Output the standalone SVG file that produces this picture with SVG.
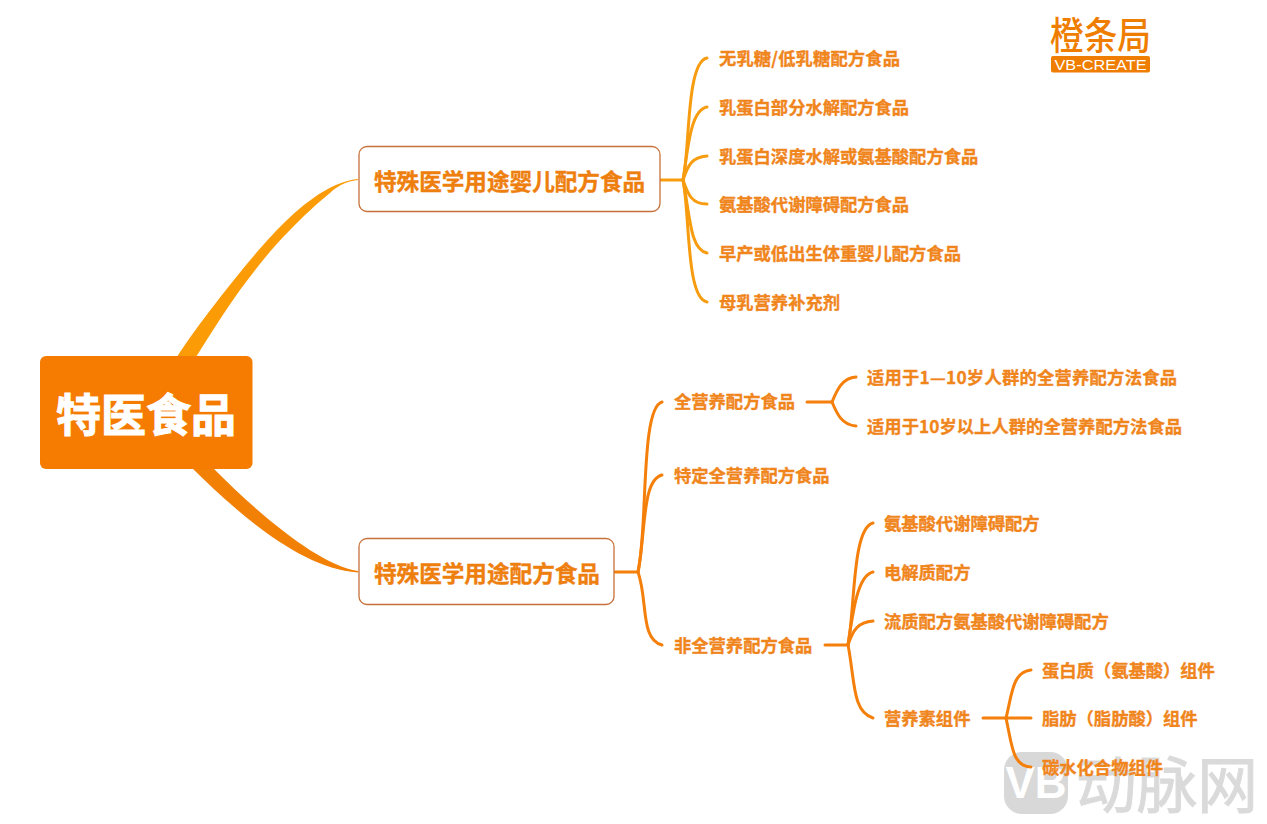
<svg xmlns="http://www.w3.org/2000/svg" width="1267" height="824" viewBox="0 0 1267 824">
<style>
text{font-family:"Noto Sans CJK SC","Noto Sans",sans-serif;font-weight:700;fill:#f0851c}
.t{font-size:17.3px;stroke:#f0851c;stroke-width:.35}
.m{font-size:22.6px;fill:#ee7f0e;stroke:#ee7f0e;stroke-width:.4}
.box{fill:#fff;stroke:#c8703a;stroke-width:1.3}
.y{fill:none;stroke:#f79c0f;stroke-width:3;stroke-linecap:round}
.o{fill:none;stroke:#f47f0a;stroke-width:3;stroke-linecap:round}
</style>
<rect width="1267" height="824" fill="#fff"/>
<g id="watermark" opacity=".8">
<rect x="1004" y="752" width="64" height="62" rx="18" fill="#cfcfcf"/>
<text x="1036" y="798" font-size="44" text-anchor="middle" style="font-family:'Liberation Sans',sans-serif;fill:#fff">VB</text>
<text x="1076" y="808" font-size="61" textLength="182" lengthAdjust="spacingAndGlyphs" style="font-weight:400;fill:#d2d2d2;stroke:#d2d2d2;stroke-width:1">动脉网</text>
</g>
<g id="connectors">
<path d="M177 357C195 328 255 250 287 220C310 198 335 181 358 179L358 180C345 181 335 188 330 193C315 205 305 215 290 230C270 250 255 270 240 290C222 315 210 335 196 357Z" fill="#fb9c07"/>
<path d="M192 468C240 515 300 568 358 572.500L358 571C320 565 265 520 213 468Z" fill="#f18005"/>
<g class="y">
<path d="M661 180H683"/>
<path d="M683 180C690 150 686 62 707 58"/>
<path d="M683 180C688 150 690 110 707 107"/>
<path d="M683 180C688 165 692 157 707 156"/>
<path d="M683 180C688 195 692 204 707 204"/>
<path d="M683 180C690 215 690 250 707 253"/>
<path d="M683 180C690 215 686 298 707 302"/>
</g>
<g class="o">
<path d="M615 572H638"/>
<path d="M638 572C648 530 640 408 662 402"/>
<path d="M638 572C646 530 642 480 662 475"/>
<path d="M638 572C648 600 640 640 662 645"/>
<path d="M807 402H832"/>
<path d="M832 402C837 390 842 378 856 377"/>
<path d="M832 402C837 414 842 425 856 426"/>
<path d="M825 645H848"/>
<path d="M848 645C855 610 852 528 873 523"/>
<path d="M848 645C853 610 858 575 873 572"/>
<path d="M848 645C853 630 858 622 873 621"/>
<path d="M848 645C855 680 852 712 873 718"/>
<path d="M983 718H1006"/>
<path d="M1006 718C1012 695 1012 672 1031 670"/>
<path d="M1006 718H1031"/>
<path d="M1006 718C1012 745 1012 766 1031 767"/>
</g>
</g>
<g id="root"><rect x="40" y="356" width="212.500" height="113" rx="6" fill="#f57c00"/><text x="146" y="432" text-anchor="middle" font-size="45" style="fill:#fff;stroke:#fff;stroke-width:1">特医食品</text></g>
<g id="n1"><rect class="box" x="359" y="146.500" width="301" height="65" rx="8"/><text class="m" x="374" y="190">特殊医学用途婴儿配方食品</text></g>
<g id="n2"><rect class="box" x="359" y="538.500" width="255" height="66" rx="8"/><text class="m" x="374" y="582">特殊医学用途配方食品</text></g>
<g id="a1"><text class="t" x="719" y="65" textLength="181">无乳糖/低乳糖配方食品</text></g>
<g id="a2"><text class="t" x="719" y="113.500">乳蛋白部分水解配方食品</text></g>
<g id="a3"><text class="t" x="719" y="162.500">乳蛋白深度水解或氨基酸配方食品</text></g>
<g id="a4"><text class="t" x="719" y="211">氨基酸代谢障碍配方食品</text></g>
<g id="a5"><text class="t" x="719" y="260">早产或低出生体重婴儿配方食品</text></g>
<g id="a6"><text class="t" x="719" y="308.500">母乳营养补充剂</text></g>
<g id="b1"><text class="t" x="674" y="408">全营养配方食品</text></g>
<g id="b2"><text class="t" x="674" y="481.500">特定全营养配方食品</text></g>
<g id="b3"><text class="t" x="674" y="652">非全营养配方食品</text></g>
<g id="c1"><text class="t" x="867" y="384" textLength="310">适用于1—10岁人群的全营养配方法食品</text></g>
<g id="c2"><text class="t" x="867" y="432.500" textLength="315">适用于10岁以上人群的全营养配方法食品</text></g>
<g id="d1"><text class="t" x="884" y="530">氨基酸代谢障碍配方</text></g>
<g id="d2"><text class="t" x="884" y="579">电解质配方</text></g>
<g id="d3"><text class="t" x="884" y="627.500">流质配方氨基酸代谢障碍配方</text></g>
<g id="d4"><text class="t" x="884" y="725">营养素组件</text></g>
<g id="e1"><text class="t" x="1042" y="676.500">蛋白质（氨基酸）组件</text></g>
<g id="e2"><text class="t" x="1042" y="725">脂肪（脂肪酸）组件</text></g>
<g id="e3"><text class="t" x="1042" y="773.500">碳水化合物组件</text></g>
<g id="logo">
<text x="1050" y="49" font-size="38" textLength="101" lengthAdjust="spacingAndGlyphs" style="font-weight:500;fill:#ef7d00">橙条局</text>
<rect x="1051" y="56" width="99" height="16.500" rx="2" fill="#ef7d00"/>
<text x="1100.500" y="69.500" font-size="14" text-anchor="middle" textLength="92" lengthAdjust="spacingAndGlyphs" style="font-family:'Liberation Sans',sans-serif;font-weight:400;fill:#fff">VB-CREATE</text>
</g>
</svg>
